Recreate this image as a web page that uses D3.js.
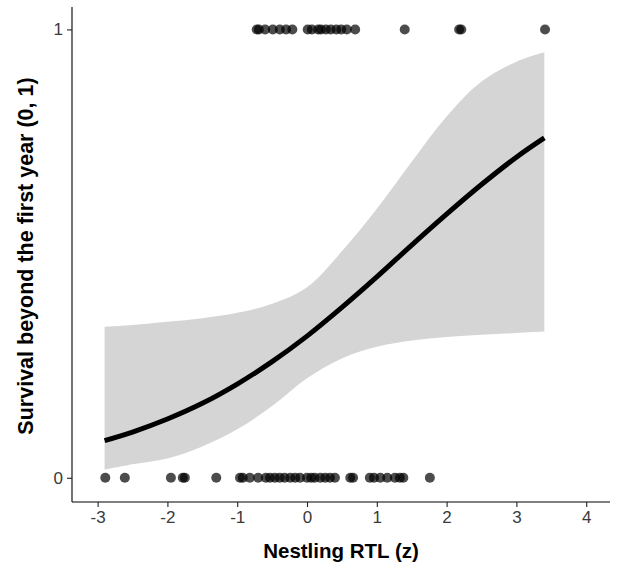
<!DOCTYPE html>
<html>
<head>
<meta charset="utf-8">
<script src="https://cdn.jsdelivr.net/npm/d3@7"></script>
<style>
  body { margin: 0; background: #fff; }
  text { font-family: "Liberation Sans", Arial, sans-serif; }
</style>
</head>
<body>
<div id="chart"></div>
<script>

// observed birds, nestling RTL (z) for survivors (1) and non-survivors (0)
var survived = [-0.72, -0.69, -0.60, -0.49, -0.39, -0.30, -0.21, 0.01, 0.07, 0.16, 0.20,
	0.27, 0.34, 0.42, 0.49, 0.57, 0.69, 1.40, 2.18, 2.21, 3.41];
var died = [-2.89, -2.61, -1.95, -1.78, -1.75, -1.30, -0.96, -0.92, -0.82, -0.70, -0.59,
	-0.53, -0.46, -0.39, -0.32, -0.24, -0.17, -0.10, 0.00, 0.06, 0.11, 0.19, 0.26, 0.33,
	0.40, 0.62, 0.66, 0.90, 0.96, 1.05, 1.15, 1.26, 1.33, 1.38, 1.76];

// fitted curve and confidence band
var fitX =  [-2.9, -2.5, -2, -1.5, -1, -0.5, 0, 0.5, 1, 1.5, 2, 2.5, 3, 3.4];
var fitY =  [0.083, 0.102, 0.131, 0.166, 0.209, 0.259, 0.316, 0.380, 0.448, 0.519, 0.588, 0.654, 0.715, 0.758];
var fitLo = [0.018, 0.030, 0.043, 0.070, 0.108, 0.160, 0.222, 0.266, 0.292, 0.306, 0.314, 0.319, 0.323, 0.326];
var fitHi = [0.337, 0.341, 0.348, 0.356, 0.368, 0.388, 0.425, 0.505, 0.600, 0.705, 0.806, 0.884, 0.928, 0.949];

var xTicks = [-3, -2, -1, 0, 1, 2, 3, 4];
var yTicks = [0, 1];

var width = 617, height = 568;

var svg = d3.select("#chart").append("svg")
	.attr("width", width)
	.attr("height", height);

var x = d3.scaleLinear().domain([-3.367, 4.341]).range([72, 610]);
var y = d3.scaleLinear().domain([-0.054, 1.05]).range([502, 7]);

var fit = fitX.map(function(d, i) {
	return {x: d, y: fitY[i], lo: fitLo[i], hi: fitHi[i]};
});

// band
svg.append("path")
	.datum(fit)
	.attr("fill", "#d5d5d5")
	.attr("d", d3.area()
		.curve(d3.curveCatmullRom)
		.x(function(d) { return x(d.x); })
		.y0(function(d) { return y(d.lo); })
		.y1(function(d) { return y(d.hi); }));

// fitted line
svg.append("path")
	.datum(fit)
	.attr("fill", "none")
	.attr("stroke", "#000")
	.attr("stroke-width", 5)
	.attr("d", d3.line()
		.curve(d3.curveCatmullRom)
		.x(function(d) { return x(d.x); })
		.y(function(d) { return y(d.y); }));

// points
var pts = survived.map(function(d) { return {x: d, y: 1}; })
	.concat(died.map(function(d) { return {x: d, y: 0}; }));

svg.append("g").selectAll("circle")
	.data(pts)
	.enter().append("circle")
	.attr("cx", function(d) { return x(d.x); })
	.attr("cy", function(d) { return y(d.y); })
	.attr("r", 5)
	.attr("fill", "#000")
	.attr("fill-opacity", 0.7);

// axes
var fmt = function(d) { return String(d); };

var xAxis = svg.append("g")
	.attr("transform", "translate(0,502)")
	.call(d3.axisBottom(x).tickValues(xTicks).tickSize(5).tickPadding(4).tickFormat(fmt));

var yAxis = svg.append("g")
	.attr("transform", "translate(72,0)")
	.call(d3.axisLeft(y).tickValues(yTicks).tickSize(5).tickPadding(4).tickFormat(fmt));

[xAxis, yAxis].forEach(function(a) {
	a.select(".domain").attr("stroke", "#000").attr("stroke-width", 1.1);
	a.selectAll(".tick line").attr("stroke", "#222").attr("stroke-width", 1.1);
	a.selectAll(".tick text")
		.attr("fill", "#3a3a3a")
		.attr("font-size", 17)
		.style("font-family", "Liberation Sans, Arial, sans-serif");
});
xAxis.select(".domain").attr("d", "M72,0H610");
yAxis.select(".domain").attr("d", "M0,502V7");

svg.append("text")
	.attr("x", 341)
	.attr("y", 558)
	.attr("text-anchor", "middle")
	.attr("font-size", 20.5)
	.attr("font-weight", "bold")
	.text("Nestling RTL (z)");

svg.append("text")
	.attr("transform", "translate(33,256) rotate(-90)")
	.attr("text-anchor", "middle")
	.attr("font-size", 21.5)
	.attr("font-weight", "bold")
	.text("Survival beyond the first year (0, 1)");

</script>
</body>
</html>
